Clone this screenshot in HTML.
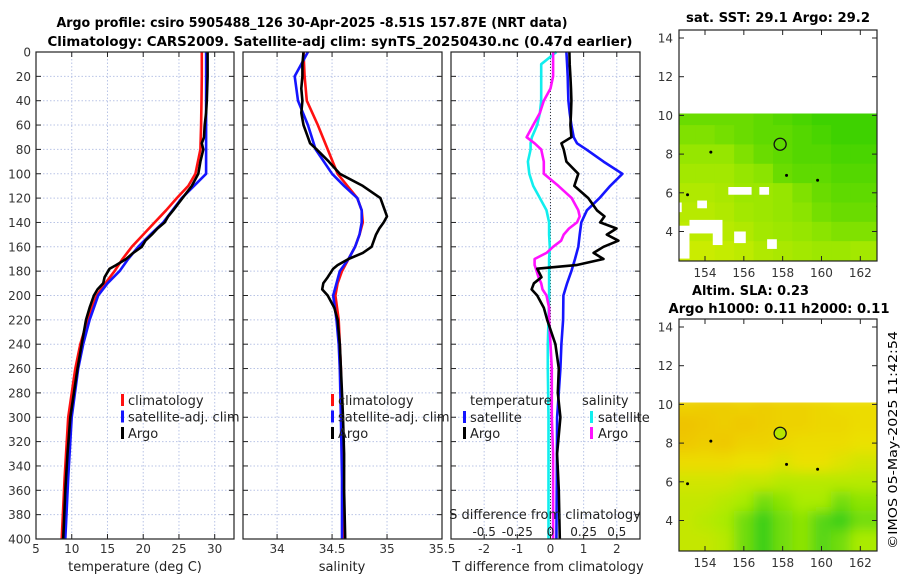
<!DOCTYPE html>
<html><head><meta charset="utf-8">
<style>
html,body{margin:0;padding:0;background:#fff;}
svg{display:block;font-family:"DejaVu Sans","Liberation Sans",sans-serif;}
</style></head>
<body>
<svg id="fig" width="900" height="580" viewBox="0 0 900 580">
<text x="312" y="27" text-anchor="middle" font-size="13" font-weight="bold" textLength="511" lengthAdjust="spacingAndGlyphs">Argo profile: csiro 5905488_126 30-Apr-2025 -8.51S 157.87E (NRT data)</text>
<text x="340" y="46" text-anchor="middle" font-size="13" font-weight="bold" textLength="585" lengthAdjust="spacingAndGlyphs">Climatology: CARS2009. Satellite-adj clim: synTS_20250430.nc (0.47d earlier)</text>
<text x="778" y="22" text-anchor="middle" font-size="13" font-weight="bold" textLength="184" lengthAdjust="spacingAndGlyphs">sat. SST: 29.1 Argo: 29.2</text>
<text x="692" y="295" font-size="13" font-weight="bold" textLength="117" lengthAdjust="spacingAndGlyphs">Altim. SLA: 0.23</text>
<text x="779" y="313" text-anchor="middle" font-size="13" font-weight="bold" textLength="221" lengthAdjust="spacingAndGlyphs">Argo h1000: 0.11 h2000: 0.11</text>
<text transform="translate(897,440) rotate(-90)" text-anchor="middle" font-size="12.5" textLength="218" lengthAdjust="spacingAndGlyphs">©IMOS 05-May-2025 11:42:54</text>
<g id="layer"></g>
</svg>
<script>
// ---------- data ----------
const depthTicks=[0,20,40,60,80,100,120,140,160,180,200,220,240,260,280,300,320,340,360,380,400];
const tTicks=[5,10,15,20,25,30];
const sTicks=[34,34.5,35,35.5];
const dTicksT=[-2,-1,0,1,2];
const dTicksS=[-0.5,-0.25,0,0.25,0.5];
const dTickSLabels=["-0.5","-0.25","0","0.25","0.5"];

const depthClim=[0,20,40,60,80,100,110,120,130,140,150,160,170,180,190,200,220,240,260,300,350,400];
const tempClim=[28.2,28.2,28.15,28.1,28.0,27.3,26.3,24.7,23.2,21.6,20.0,18.4,17.1,16.0,14.7,13.5,12.2,11.2,10.5,9.5,9.0,8.6];
const tempSat=[28.8,28.8,28.8,28.8,28.8,28.8,27.1,25.4,24.1,22.8,21.0,19.3,17.9,16.7,15.0,13.7,12.5,11.6,10.9,10.0,9.5,9.1];
const salClim=[34.24,34.25,34.27,34.37,34.46,34.55,34.64,34.73,34.77,34.78,34.75,34.71,34.65,34.59,34.55,34.53,34.56,34.57,34.58,34.59,34.6,34.6];
const salSat=[34.28,34.16,34.19,34.28,34.35,34.50,34.61,34.73,34.77,34.77,34.75,34.71,34.65,34.57,34.54,34.51,34.54,34.56,34.57,34.58,34.59,34.59];

const depthArgo=[0,10,20,30,40,50,60,70,75,80,90,100,110,120,130,135,140,145,150,155,160,165,170,175,178,185,190,195,200,210,220,240,260,280,300,330,360,400];
const tempArgo=[29.0,29.0,29.0,28.95,28.9,28.8,28.6,28.5,28.2,28.4,28.0,27.7,26.8,25.5,24.2,23.5,23.0,22.0,21.2,20.3,19.8,18.6,17.6,16.2,15.3,14.6,14.4,13.6,13.1,12.5,12.0,11.4,10.8,10.3,9.8,9.4,9.1,8.8];
const salArgo=[34.24,34.23,34.23,34.22,34.23,34.22,34.24,34.28,34.30,34.36,34.47,34.57,34.78,34.94,34.98,35.0,34.97,34.93,34.90,34.88,34.86,34.78,34.65,34.55,34.51,34.46,34.42,34.41,34.46,34.52,34.55,34.57,34.58,34.59,34.6,34.61,34.61,34.62];
const dTempArgo=[0.57,0.58,0.6,0.62,0.63,0.62,0.6,0.63,0.33,0.4,0.48,0.84,0.72,1.14,1.4,1.63,1.5,1.99,1.7,2.05,1.6,1.3,1.6,0.78,-0.4,-0.27,-0.5,-0.57,-0.4,-0.2,-0.1,0.15,0.25,0.22,0.3,0.2,0.25,0.28];
const dTempSat=[0.48,0.5,0.52,0.53,0.54,0.58,0.63,0.7,0.8,1.08,1.6,2.17,1.8,1.48,1.1,0.93,0.88,0.84,0.74,0.63,0.5,0.39,0.38,0.33,0.3,0.2,0.19,0.18];
const depthSat=[0,10,20,30,40,50,60,70,75,80,90,100,110,120,130,140,150,160,170,180,190,200,220,240,260,300,350,400];
const dSalArgo=[0.02,0.02,0.02,0.0,-0.05,-0.08,-0.13,-0.18,-0.12,-0.07,-0.05,-0.05,0.06,0.16,0.21,0.22,0.2,0.14,0.1,0.08,0.02,-0.03,-0.12,-0.12,-0.11,-0.09,-0.07,-0.06,-0.03,-0.01,-0.01,0.0,0.01,0.01,0.01,0.02,0.02,0.02];
const dSalSat=[0.045,-0.07,-0.07,-0.07,-0.07,-0.08,-0.1,-0.14,-0.15,-0.15,-0.17,-0.16,-0.13,-0.08,-0.03,-0.01,-0.01,-0.005,-0.01,-0.01,-0.01,-0.01,-0.015,-0.02,-0.02,-0.015,-0.015,-0.015];

const mapLons=[153,154,155,156,157,158,159,160,161,162];
const mapLats=[10,9,8,7,6,5,4,3];
const sstLevels=[
[.7,.7,.7,.7,.75,.8,.85,.9,.9,.9],
[.6,.6,.65,.7,.75,.75,.8,.85,.9,.9],
[.5,.5,.5,.6,.7,.75,.8,.8,.85,.85],
[.4,.4,.4,.5,.55,.7,.75,.75,.8,.8],
[.3,.3,.35,.45,.45,.5,.6,.7,.75,.75],
[.25,.25,.3,.4,.45,.5,.55,.65,.7,.7],
[.2,.2,.25,.3,.4,.45,.5,.55,.6,.6],
[.1,.1,.15,.2,.3,.35,.4,.45,.45,.4]];
const sstGaps=[[152.66,2.6,153.2,4.3],[153.2,3.9,154.9,4.6],[154.4,3.3,154.9,4.0],[155.5,3.4,156.1,4.0],[153.6,5.2,154.1,5.6],[155.2,5.9,156.4,6.3],[157.2,3.1,157.7,3.6],[152.66,5.0,152.8,5.5],[156.8,5.9,157.3,6.3]];
const slaLevels=[
[.35,.3,.3,.35,.3,.35,.35,.4,.45,.45],
[.2,.25,.3,.25,.3,.35,.35,.4,.4,.45],
[.25,.3,.25,.35,.35,.4,.45,.45,.45,.5],
[.45,.45,.45,.5,.5,.55,.5,.5,.55,.6],
[.6,.6,.6,.65,.65,.7,.7,.7,.7,.7],
[.65,.65,.7,.75,.85,.8,.75,.75,.85,.8],
[.65,.7,.75,.85,.95,.85,.8,.9,.95,.85],
[.65,.65,.7,.85,.95,.85,.8,.9,.85,.75]];
const mapLonTicks=[154,156,158,160,162];
const mapLatTicks=[4,6,8,10,12,14];
const floatPos=[157.87,8.51];

// ---------- helpers ----------
const NS='http://www.w3.org/2000/svg';
const layer=document.getElementById('layer');
function mk(tag,attrs,parent){const e=document.createElementNS(NS,tag);for(const k in attrs)e.setAttribute(k,attrs[k]);(parent||layer).appendChild(e);return e;}
const PT=52,PB=539;
const yD=d=>PT+(d/400)*(PB-PT);
function lin(d0,d1,r0,r1){return v=>r0+(v-d0)/(d1-d0)*(r1-r0);}

function panel(name,x0,x1,xs,xticks,xlabels){
  const g=mk('g',{});
  
  
  xticks.forEach(v=>{const x=xs(v);mk('line',{x1:x,x2:x,y1:PT,y2:PB,stroke:'#b9c4e6','stroke-width':1,'stroke-dasharray':'1.5,2'},g);});
  depthTicks.forEach(d=>{const y=yD(d);mk('line',{x1:x0,x2:x1,y1:y,y2:y,stroke:'#b9c4e6','stroke-width':1,'stroke-dasharray':'1.5,2'},g);
    mk('line',{x1:x0,x2:x0+5,y1:y,y2:y,stroke:'#222','stroke-width':1},g);mk('line',{x1:x1-5,x2:x1,y1:y,y2:y,stroke:'#222','stroke-width':1},g);});
  xticks.forEach((v,i)=>{const x=xs(v);mk('line',{x1:x,x2:x,y1:PB-5,y2:PB,stroke:'#222'},g);mk('line',{x1:x,x2:x,y1:PT,y2:PT+5,stroke:'#222'},g);
    const t=mk('text',{x:x,y:553,'text-anchor':'middle','font-size':12,fill:'#333'},g);t.textContent=xlabels[i];});
  return g;
}
function line(g,xs,vals,depths,color,name,w){
  const p=vals.map((v,i)=>(i?'L':'M')+xs(v).toFixed(1)+','+yD(depths[i]).toFixed(1)).join('');
  const e=mk('path',{d:p,fill:'none',stroke:color,'stroke-width':w||2.6,'stroke-linejoin':'round'},g);
  
  
}
function frame(g,x0,x1){mk('rect',{x:x0,y:PT,width:x1-x0,height:PB-PT,fill:'none',stroke:'#222','stroke-width':1.2},g);}
function txt(g,x,y,s,size,anchor,name){const t=mk('text',{x:x,y:y,'font-size':size,'text-anchor':anchor||'start',fill:'#222'},g);t.textContent=s;if(name){}return t;}
function legendBar(g,x,y,color){mk('rect',{x:x,y:y-11,width:3,height:12,fill:color},g);}

// ---------- panel 1: temperature ----------
const x1s=lin(5,32.7,36,234);
const g1=panel('temperature-panel',36,234,x1s,tTicks,tTicks.map(String));
depthTicks.forEach(d=>{txt(g1,31,yD(d)+4.5,String(d),12,'end').setAttribute('fill','#333');});
line(g1,x1s,tempClim,depthClim,'#ff1010','temp-climatology-line');
line(g1,x1s,tempSat,depthClim,'#1515ff','temp-satellite-line');
line(g1,x1s,tempArgo,depthArgo,'#000','temp-argo-line');
frame(g1,36,234);
txt(g1,135,571,'temperature (deg C)',13,'middle','temperature-axis-title');
[['#ff1010','climatology'],['#1515ff','satellite-adj. clim'],['#000','Argo']].forEach((l,i)=>{legendBar(g1,121,405+i*16.5,l[0]);txt(g1,128,405+i*16.5,l[1],13);});

// ---------- panel 2: salinity ----------
const x2s=lin(33.69,35.5,243,442);
const g2=panel('salinity-panel',243,442,x2s,sTicks,sTicks.map(String));
line(g2,x2s,salClim,depthClim,'#ff1010','sal-climatology-line');
line(g2,x2s,salSat,depthClim,'#1515ff','sal-satellite-line');
line(g2,x2s,salArgo,depthArgo,'#000','sal-argo-line');
frame(g2,243,442);
txt(g2,342,571,'salinity',13,'middle','salinity-axis-title');
[['#ff1010','climatology'],['#1515ff','satellite-adj. clim'],['#000','Argo']].forEach((l,i)=>{legendBar(g2,331,405+i*16.5,l[0]);txt(g2,338,405+i*16.5,l[1],13);});

// ---------- panel 3: differences ----------
const x3s=lin(-3.0,2.7,451,640);
const x3sS=v=>x3s(v*4);
const g3=panel('difference-panel',451,640,x3s,dTicksT,dTicksT.map(String));
mk('line',{x1:x3s(0),x2:x3s(0),y1:PT,y2:PB,stroke:'#333','stroke-width':1,'stroke-dasharray':'1,2'},g3);
line(g3,x3sS,dSalSat,depthSat,'#11eeee','sal-diff-satellite-line');
line(g3,x3sS,dSalArgo,depthArgo,'#ff11ff','sal-diff-argo-line');
line(g3,x3s,dTempSat,depthSat,'#1515ff','temp-diff-satellite-line');
line(g3,x3s,dTempArgo,depthArgo,'#000','temp-diff-argo-line');
frame(g3,451,640);
txt(g3,545,519,'S difference from climatology',13,'middle','s-diff-axis-title');
dTicksS.forEach((v,i)=>txt(g3,x3sS(v),536,dTickSLabels[i],12,'middle'));
txt(g3,548,571,'T difference from climatology',13,'middle','t-diff-axis-title');
txt(g3,470,405,'temperature',13);
legendBar(g3,463,422,'#1515ff');txt(g3,470,422,'satellite',13);
legendBar(g3,463,438,'#000');txt(g3,470,438,'Argo',13);
txt(g3,582,405,'salinity',13);
legendBar(g3,590,422,'#11eeee');txt(g3,598,422,'satellite',13);
legendBar(g3,590,438,'#ff11ff');txt(g3,598,438,'Argo',13);

// ---------- maps ----------
function mix(a,b,t){return a.map((v,i)=>Math.round(v+(b[i]-v)*t));}
function sstColor(v){const s=[[215,238,0],[150,230,0],[40,205,0]];return v<.5?mix(s[0],s[1],v/.5):mix(s[1],s[2],(v-.5)/.5);}
function slaColor(v){const s=[[240,175,10],[235,225,0],[170,235,0],[30,200,30]];
  if(v<.5)return mix(s[0],s[1],v/.5);if(v<.75)return mix(s[1],s[2],(v-.5)/.25);return mix(s[2],s[3],(v-.75)/.25);}
function map(name,top,bot,levels,colorFn,gaps,blur){
  const lonS=lin(152.66,162.86,679,877),latS=lin(14,4,top+8,top+201.5);
  const g=mk('g',{});
  
  
  const clip='clip'+top;const cp=mk('clipPath',{id:clip},g);mk('rect',{x:679,y:latS(10.1),width:198,height:bot-latS(10.1)},cp);
  const clipAll='clipall'+top;const cp2=mk('clipPath',{id:clipAll},g);mk('rect',{x:679,y:top,width:198,height:bot-top},cp2);
  const cells=mk('g',{'clip-path':'url(#'+clip+')'},g);
  if(blur){const f=mk('filter',{id:'blur'+top,x:'-10%',y:'-10%',width:'120%',height:'120%'},g);mk('feGaussianBlur',{stdDeviation:6},f);}
  const inner=mk('g',blur?{filter:'url(#blur'+top+')'}:{},cells);
  levels.forEach((row,r)=>row.forEach((v,c)=>{const c0=colorFn(v);
    const x=lonS(mapLons[c]-0.5),y=latS(mapLats[r]+0.5);
    const e=mk('rect',{x:x-(c==0?30:0),y:y,width:lonS(1)-lonS(0)+(c==0||c==9?30:0)+0.5,height:latS(0)-latS(1)+(r==7?30:0)+0.5,fill:'rgb('+c0.join(',')+')'},inner);
    
    }));
  (gaps||[]).forEach(b=>mk('rect',{x:lonS(b[0]),y:latS(b[3]),width:lonS(b[2])-lonS(b[0]),height:latS(b[1])-latS(b[3]),fill:'#fff'},cells));
  const marks=mk('g',{'clip-path':'url(#'+clipAll+')'},g);
  const ci=mk('circle',{cx:lonS(floatPos[0]),cy:latS(floatPos[1]),r:6,fill:blur?'#b5e600':'none',stroke:'#111','stroke-width':1.3},marks);
  
  
  [[158.2,6.9],[154.3,8.1],[153.1,5.9],[159.8,6.65],[162.9,5.3]].forEach(p=>mk('circle',{cx:lonS(p[0]),cy:latS(p[1]),r:1.5,fill:'#000'},marks));
  mk('rect',{x:679,y:top,width:198,height:bot-top,fill:'none',stroke:'#222','stroke-width':1.2},g);
  mapLatTicks.forEach(v=>{const y=latS(v);mk('line',{x1:679,x2:684,y1:y,y2:y,stroke:'#222'},g);mk('line',{x1:872,x2:877,y1:y,y2:y,stroke:'#222'},g);txt(g,673,y+4.5,String(v),12,'end').setAttribute('fill','#333');});
  mapLonTicks.forEach(v=>{const x=lonS(v);mk('line',{x1:x,x2:x,y1:bot-5,y2:bot,stroke:'#222'},g);mk('line',{x1:x,x2:x,y1:top,y2:top+5,stroke:'#222'},g);txt(g,x,bot+16,String(v),12,'middle').setAttribute('fill','#333');});
}
map('sst-map',30,261,sstLevels,sstColor,sstGaps,false);
map('sla-map',319,551,slaLevels,slaColor,[],true);
</script>
</body></html>
